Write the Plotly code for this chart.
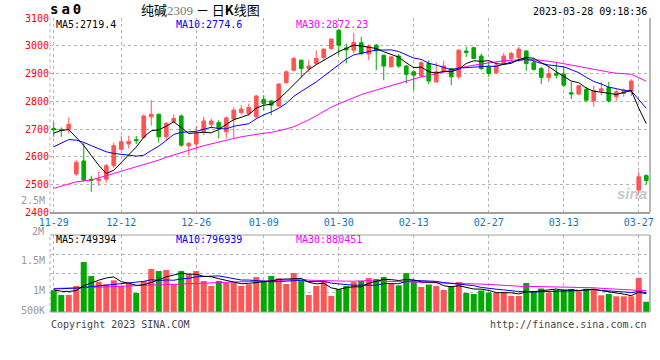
import plotly.graph_objects as go

# ---------------- data ----------------
dates = ["11-29", "11-30", "12-01", "12-02", "12-05", "12-06", "12-07", "12-08", "12-09", "12-12",
         "12-13", "12-14", "12-15", "12-16", "12-19", "12-20", "12-21", "12-22", "12-23", "12-26",
         "12-27", "12-28", "12-29", "12-30", "01-03", "01-04", "01-05", "01-06", "01-09", "01-10",
         "01-11", "01-12", "01-13", "01-16", "01-17", "01-18", "01-19", "01-20", "01-30", "01-31",
         "02-01", "02-02", "02-03", "02-06", "02-07", "02-08", "02-09", "02-10", "02-13", "02-14",
         "02-15", "02-16", "02-17", "02-20", "02-21", "02-22", "02-23", "02-24", "02-27", "02-28",
         "03-01", "03-02", "03-03", "03-06", "03-07", "03-08", "03-09", "03-10", "03-13", "03-14",
         "03-15", "03-16", "03-17", "03-20", "03-21", "03-22", "03-23", "03-24", "03-27", "03-28"]

tick_dates = ["11-29", "12-12", "12-26", "01-09", "01-30", "02-13", "02-27", "03-13", "03-27"]
price_ticks = [2400, 2500, 2600, 2700, 2800, 2900, 3000, 3100]

open_ = [2702, 2698, 2700, 2538, 2585, 2519, 2515, 2519, 2568, 2627,
         2646, 2662, 2670, 2744, 2753, 2672, 2726, 2747, 2639, 2646,
         2690, 2717, 2723, 2690, 2736, 2759, 2756, 2744, 2807, 2801,
         2783, 2867, 2912, 2948, 2918, 2936, 2957, 2990, 3056, 2992,
         2984, 3011, 2970, 3002, 2966, 2924, 2963, 2927, 2906, 2891,
         2936, 2870, 2910, 2918, 2888, 2981, 2993, 2963, 2924, 2903,
         2936, 2954, 2957, 2981, 2939, 2918, 2886, 2900, 2898, 2831,
         2826, 2843, 2801, 2837, 2850, 2816, 2828, 2837, 2480, 2532]

high = [2724, 2706, 2742, 2588, 2649, 2532, 2546, 2574, 2651, 2676,
        2676, 2675, 2753, 2804, 2756, 2726, 2753, 2753, 2654, 2711,
        2744, 2738, 2732, 2746, 2778, 2786, 2792, 2822, 2822, 2804,
        2864, 2912, 2960, 2950, 2948, 2984, 2990, 3026, 3060, 3008,
        3047, 3032, 3006, 3006, 2968, 2963, 2970, 2930, 2912, 2945,
        2948, 2940, 2946, 2920, 2987, 2996, 2995, 2972, 2942, 2942,
        2975, 2978, 2996, 2984, 2954, 2924, 2924, 2942, 2924, 2870,
        2858, 2852, 2855, 2870, 2870, 2846, 2846, 2880, 2546, 2537]

low = [2672, 2672, 2684, 2531, 2510, 2474, 2495, 2507, 2560, 2624,
       2630, 2646, 2665, 2712, 2651, 2658, 2720, 2636, 2606, 2624,
       2678, 2702, 2666, 2666, 2666, 2752, 2748, 2736, 2768, 2750,
       2780, 2864, 2907, 2888, 2906, 2930, 2950, 2985, 2966, 2936,
       2972, 2966, 2948, 2912, 2876, 2921, 2920, 2864, 2840, 2885,
       2862, 2866, 2900, 2858, 2880, 2960, 2952, 2912, 2888, 2898,
       2930, 2942, 2942, 2910, 2910, 2862, 2870, 2882, 2852, 2808,
       2822, 2798, 2780, 2822, 2795, 2802, 2816, 2819, 2468, 2501]

close = [2697, 2695, 2717, 2580, 2516, 2515, 2519, 2568, 2640, 2654,
         2656, 2658, 2747, 2753, 2672, 2720, 2738, 2642, 2648, 2684,
         2729, 2729, 2702, 2740, 2768, 2772, 2778, 2819, 2792, 2786,
         2862, 2906, 2954, 2918, 2927, 2954, 2988, 3024, 3002, 2985,
         3012, 2972, 2999, 2982, 2927, 2960, 2927, 2897, 2894, 2939,
         2873, 2906, 2927, 2888, 2984, 2976, 2954, 2918, 2900, 2930,
         2963, 2972, 2988, 2936, 2915, 2886, 2900, 2894, 2858, 2826,
         2856, 2804, 2838, 2845, 2801, 2834, 2840, 2873, 2528, 2514]

ma5 = [2685, 2695, 2698, 2668, 2641, 2604.6, 2569.4, 2539.6, 2551.6, 2579.2,
       2607.4, 2635.2, 2671, 2693.6, 2697.2, 2710, 2726, 2705, 2684, 2686.4,
       2688.2, 2686.4, 2698.4, 2716.8, 2733.6, 2742.2, 2752, 2775.4, 2785.8, 2789.4,
       2807.4, 2833, 2860, 2885.2, 2913.4, 2931.8, 2948.2, 2962.2, 2979, 2990.6,
       3002.2, 2999, 2994, 2990, 2978.4, 2968, 2959, 2938.6, 2921, 2923.4,
       2906, 2901.8, 2907.8, 2906.6, 2915.6, 2936.2, 2945.8, 2944, 2946.4, 2935.6,
       2933, 2936.6, 2950.6, 2957.8, 2954.8, 2939.4, 2925, 2906.2, 2890.6, 2872.8,
       2866.8, 2847.6, 2836.4, 2833.8, 2828.8, 2824.4, 2831.6, 2838.6, 2775.2, 2719.4]

ma10 = [2636, 2650, 2662, 2660, 2652, 2640, 2628, 2618, 2612, 2610.1,
        2606.0, 2602.3, 2605.3, 2622.6, 2638.2, 2658.7, 2680.6, 2688.0, 2688.8, 2691.8,
        2699.1, 2706.2, 2701.7, 2700.4, 2710.0, 2715.2, 2719.2, 2736.9, 2751.3, 2761.5,
        2774.8, 2792.5, 2817.7, 2835.5, 2851.4, 2869.6, 2890.6, 2911.1, 2932.1, 2952.0,
        2967.0, 2973.6, 2978.1, 2984.5, 2984.5, 2985.1, 2979.0, 2966.3, 2955.5, 2950.9,
        2937.0, 2930.4, 2923.2, 2913.8, 2919.5, 2921.1, 2923.8, 2925.9, 2926.5, 2925.6,
        2934.6, 2941.2, 2947.3, 2952.1, 2945.2, 2936.2, 2930.8, 2928.4, 2924.2, 2913.8,
        2903.1, 2886.3, 2871.3, 2862.2, 2850.8, 2845.6, 2839.6, 2837.5, 2804.5, 2774.6]

ma30 = [2486, 2494, 2502, 2510, 2513, 2517, 2524, 2531, 2540, 2548,
        2556, 2562, 2570, 2579, 2588, 2598, 2607, 2615, 2624, 2632,
        2640, 2647, 2653, 2660, 2666, 2672, 2677, 2682, 2685, 2687.8,
        2693.3, 2700.3, 2708.2, 2719.5, 2733.2, 2747.8, 2763.5, 2778.7, 2790.7, 2801.8,
        2813.6, 2824.1, 2832.5, 2840.1, 2848.6, 2856.6, 2862.9, 2871.4, 2879.6, 2888.1,
        2892.9, 2898.8, 2906.3, 2911.3, 2918.5, 2925.3, 2931.1, 2934.4, 2938.0, 2942.8,
        2946.2, 2948.4, 2949.5, 2950.1, 2949.7, 2947.5, 2944.5, 2940.2, 2935.4, 2930.1,
        2924.9, 2919.3, 2913.9, 2909.4, 2905.2, 2901.0, 2898.1, 2897.3, 2885.1, 2872.23]

volume = [890000, 697000, 697000, 1066000, 2050000, 1476000, 1242000, 1136000, 1300000, 1066000,
          1177000, 779000, 1271000, 1763000, 1681000, 1722000, 1136000, 1681000, 1546000, 1681000,
          1271000, 1066000, 1271000, 1201000, 1201000, 1066000, 1136000, 1435000, 1271000, 1476000,
          1382000, 1148000, 1599000, 1271000, 697000, 1066000, 1271000, 656000, 943000, 1066000,
          1230000, 1271000, 1394000, 1353000, 1435000, 1189000, 1095000, 1599000, 1271000, 1025000,
          1128000, 1066000, 902000, 1066000, 1230000, 779000, 738000, 882000, 800000, 779000,
          820000, 656000, 656000, 1189000, 861000, 964000, 800000, 902000, 923000, 943000,
          849000, 955000, 955000, 685000, 738000, 644000, 644000, 644000, 1394000, 420000]

vol_ma5 = [910000, 850000, 840000, 880000, 1080000, 1197000, 1306000, 1394000, 1441000, 1244000,
           1184000, 1092000, 1119000, 1211000, 1334000, 1443000, 1515000, 1597000, 1553000, 1553000,
           1463000, 1449000, 1367000, 1298000, 1202000, 1161000, 1175000, 1208000, 1222000, 1277000,
           1340000, 1342000, 1375000, 1375000, 1219000, 1156000, 1181000, 992000, 927000, 1000000,
           1033000, 1033000, 1181000, 1263000, 1337000, 1328000, 1293000, 1334000, 1318000, 1236000,
           1224000, 1218000, 1078000, 1037000, 1078000, 1009000, 943000, 939000, 886000, 796000,
           804000, 787000, 742000, 820000, 836000, 865000, 894000, 943000, 890000, 906000,
           883000, 914000, 925000, 877000, 836000, 795000, 733000, 671000, 813000, 749394]

vol_ma10 = [945000, 950000, 960000, 980000, 1010000, 1040000, 1060000, 1080000, 1110000, 1162000,
            1191000, 1199000, 1256000, 1326000, 1289000, 1314000, 1303000, 1358000, 1382000, 1444000,
            1453000, 1482000, 1482000, 1426000, 1378000, 1312000, 1312000, 1287000, 1260000, 1239000,
            1251000, 1259000, 1292000, 1299000, 1248000, 1248000, 1262000, 1184000, 1151000, 1110000,
            1095000, 1107000, 1087000, 1095000, 1169000, 1181000, 1163000, 1258000, 1290000, 1286000,
            1276000, 1256000, 1206000, 1178000, 1157000, 1116000, 1080000, 1009000, 962000, 937000,
            906000, 865000, 841000, 853000, 816000, 835000, 841000, 843000, 855000, 871000,
            874000, 904000, 934000, 884000, 871000, 839000, 824000, 798000, 845000, 796939]

vol_ma30 = [965000, 970000, 975000, 980000, 990000, 1000000, 1015000, 1030000, 1045000, 1055000,
            1065000, 1075000, 1085000, 1095000, 1105000, 1115000, 1125000, 1135000, 1148000, 1160000,
            1175000, 1190000, 1205000, 1215000, 1225000, 1235000, 1245000, 1255000, 1268000, 1282000,
            1298000, 1313000, 1343000, 1350000, 1305000, 1291000, 1292000, 1276000, 1264000, 1264000,
            1266000, 1283000, 1287000, 1273000, 1265000, 1247000, 1246000, 1243000, 1234000, 1212000,
            1207000, 1207000, 1195000, 1190000, 1191000, 1182000, 1168000, 1150000, 1134000, 1111000,
            1092000, 1076000, 1044000, 1042000, 1047000, 1044000, 1028000, 1036000, 1036000, 1032000,
            1019000, 1008000, 994000, 971000, 948000, 930000, 915000, 883000, 887000, 880451]

for arr in (open_, high, low, close, ma5, ma10, ma30, volume, vol_ma5, vol_ma10, vol_ma30):
    assert len(arr) == len(dates), len(arr)

# ---------------- layout helpers ----------------
W, H = 660, 360
ML, MR, MT, MB = 50, 10, 18, 48
PW = W - ML - MR
PH = H - MT - MB


def px(x):
    return (x - ML) / PW


def py(y):
    return (H - MB - y) / PH


price_dom = [py(212.3), 1.0]
vol_dom = [0.0, py(235)]
VOL_MAX = 3160000

RED = "#ff5555"
GREEN = "#00a800"
GRID = "#b4b4b4"
BORDER = "#a0a0a0"
MONO = "DejaVu Sans Mono"
CJK = "Noto Sans CJK SC"

fig = go.Figure()

fig.add_trace(go.Candlestick(
    x=dates, open=open_, high=high, low=low, close=close,
    increasing=dict(line=dict(color=RED, width=1), fillcolor=RED),
    decreasing=dict(line=dict(color=GREEN, width=1), fillcolor=GREEN),
    whiskerwidth=0, xaxis="x", yaxis="y", showlegend=False, hoverinfo="skip"))

for vals, col in ((ma30, "#ff00ff"), (ma10, "#0000ff"), (ma5, "#000000")):
    fig.add_trace(go.Scatter(x=dates, y=vals, mode="lines", line=dict(color=col, width=1),
                             xaxis="x", yaxis="y", showlegend=False, hoverinfo="skip"))

bar_colors = [RED if c >= o else GREEN for o, c in zip(open_, close)]
fig.add_trace(go.Bar(x=dates, y=volume, marker=dict(color=bar_colors, line=dict(width=0)),
                     width=0.8, xaxis="x2", yaxis="y2", showlegend=False, hoverinfo="skip"))

for vals, col in ((vol_ma30, "#ff00ff"), (vol_ma10, "#0000ff"), (vol_ma5, "#000000")):
    fig.add_trace(go.Scatter(x=dates, y=vals, mode="lines", line=dict(color=col, width=1),
                             xaxis="x2", yaxis="y2", showlegend=False, hoverinfo="skip"))


def ann(text, x, y, xanchor="left", color="#000000", size=10, family=MONO):
    return dict(text=text, x=px(x), y=py(y), xref="paper", yref="paper",
                xanchor=xanchor, yanchor="middle", showarrow=False,
                font=dict(family=family, size=size, color=color))


annotations = [
    ann('<b><span style="letter-spacing:3px">sa0</span></b>', 48, 9, size=14),
    ann('纯碱<span style="color:#777777;font-family:Liberation Serif">2309</span> － 日<b>K</b>线图',
        139, 9, size=13, family=CJK),
    ann("2023-03-28 09:18:36", 649, 12, xanchor="right"),
    ann("MA5:2719.4", 54, 24),
    ann("MA10:2774.6", 174, 24, color="#0000ff"),
    ann("MA30:2872.23", 294, 24, color="#ff00ff"),
    ann("MA5:749394", 54, 239),
    ann("MA10:796939", 174, 239, color="#0000ff"),
    ann("MA30:880451", 294, 239, color="#ff00ff"),
    ann("2.5M", 47, 200.7, xanchor="right", color="#999999"),
    ann("2M", 46, 232, xanchor="right", color="#999999"),
    ann("1.5M", 47, 260.5, xanchor="right", color="#999999"),
    ann("1M", 47, 290.7, xanchor="right", color="#999999"),
    ann("500K", 47, 310.7, xanchor="right", color="#999999"),
    ann("Copyright 2023 SINA.COM", 49, 324, color="#444444"),
    ann("http://finance.sina.com.cn", 649, 324, xanchor="right", color="#444444"),
    ann("<b><i>sina</i></b>", 632, 193, xanchor="center", color="#c8c8c8", size=15,
        family="Liberation Sans"),
]

shapes = [
    # price panel borders
    dict(type="line", xref="paper", yref="paper", x0=0, x1=0, y0=price_dom[0], y1=1,
         line=dict(color=GRID, width=1, dash="dot")),
    dict(type="line", xref="paper", yref="paper", x0=1, x1=1, y0=price_dom[0], y1=1,
         line=dict(color=BORDER, width=1.5)),
    # volume panel borders
    dict(type="line", xref="paper", yref="paper", x0=0, x1=0, y0=0, y1=vol_dom[1],
         line=dict(color=GRID, width=1, dash="dot")),
    dict(type="line", xref="paper", yref="paper", x0=1, x1=1, y0=0, y1=vol_dom[1],
         line=dict(color=BORDER, width=1.5)),
    dict(type="line", xref="paper", yref="paper", x0=0, x1=1, y0=vol_dom[1], y1=vol_dom[1],
         line=dict(color=BORDER, width=1)),
    dict(type="line", xref="paper", yref="paper", x0=0, x1=1, y0=0, y1=0,
         line=dict(color=BORDER, width=1)),
]

fig.update_layout(
    width=W, height=H,
    margin=dict(l=ML, r=MR, t=MT, b=MB, autoexpand=False),
    paper_bgcolor="white", plot_bgcolor="white",
    showlegend=False,
    annotations=annotations,
    shapes=shapes,
    bargap=0.2,
    xaxis=dict(type="category", domain=[0, 1], anchor="y", range=[-0.5, len(dates) - 0.5],
               tickmode="array", tickvals=tick_dates, ticktext=tick_dates,
               showgrid=True, gridcolor=GRID, griddash="dot", gridwidth=1,
               showline=True, linecolor=BORDER, linewidth=1.5, ticks="",
               tickfont=dict(family=MONO, size=10, color="#0a78c8"),
               rangeslider=dict(visible=False), zeroline=False, automargin=False),
    yaxis=dict(domain=price_dom, anchor="x", range=[2400, 3100],
               tickmode="array", tickvals=price_ticks,
               showgrid=True, gridcolor=GRID, griddash="dot", gridwidth=1,
               zeroline=False, ticks="", showline=False, automargin=False,
               tickfont=dict(family=MONO, size=10, color="#ff0000")),
    xaxis2=dict(type="category", domain=[0, 1], anchor="y2", range=[-0.5, len(dates) - 0.5],
                matches="x", tickmode="array", tickvals=tick_dates,
                showticklabels=False, showgrid=True, gridcolor=GRID, griddash="dot",
                gridwidth=1, ticks="", showline=False, zeroline=False, automargin=False),
    yaxis2=dict(domain=vol_dom, anchor="x2", range=[0, VOL_MAX],
                tickmode="array", tickvals=[VOL_MAX * 0.25, VOL_MAX * 0.5, VOL_MAX * 0.75],
                showticklabels=False, showgrid=True, gridcolor=GRID, griddash="dot",
                gridwidth=1, zeroline=False, ticks="", showline=False, automargin=False),
)

fig.write_html("out.html", config={"displayModeBar": False, "staticPlot": True},
               post_script="document.body.style.margin='0px';")
